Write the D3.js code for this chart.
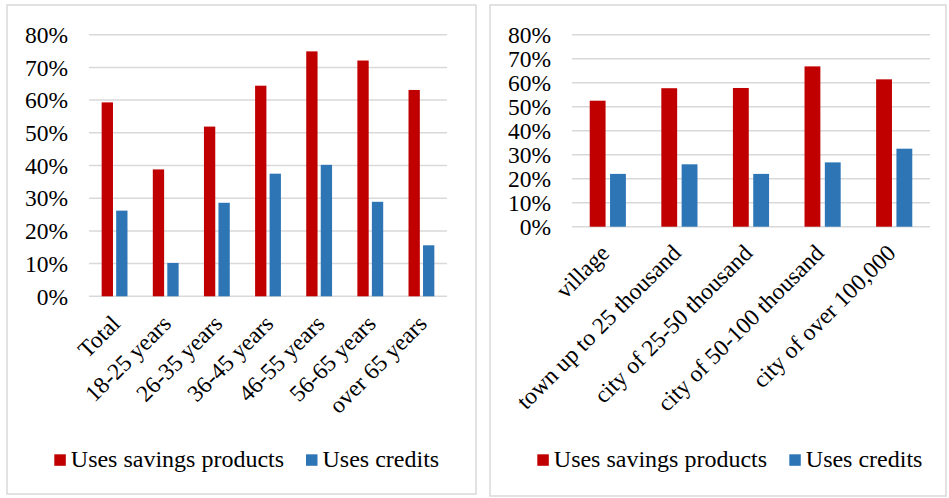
<!DOCTYPE html>
<html><head><meta charset="utf-8">
<script src="https://cdn.jsdelivr.net/npm/d3@7"></script>
<style>body{margin:0;background:#fff}svg{display:block}</style>
</head><body>
<script>
const seriesNames = ["Uses savings products", "Uses credits"];
const seriesColors = ["#C00000", "#2E75B6"];
const yTicks = [0, 0.1, 0.2, 0.3, 0.4, 0.5, 0.6, 0.7, 0.8];

const ageCategories = ["Total", "18-25 years", "26-35 years", "36-45 years", "46-55 years", "56-65 years", "over 65 years"];
const ageSavings = [0.593, 0.388, 0.519, 0.644, 0.749, 0.721, 0.631];
const ageCredits = [0.262, 0.102, 0.286, 0.375, 0.402, 0.289, 0.156];

const placeCategories = ["village", "town up to 25 thousand", "city of 25-50 thousand", "city of 50-100 thousand", "city of over 100,000"];
const placeSavings = [0.525, 0.577, 0.578, 0.668, 0.614];
const placeCredits = [0.220, 0.260, 0.220, 0.268, 0.325];

const FONT = '"Liberation Serif", "Times New Roman", serif';
const W = 949, H = 498;
const svg = d3.select("body").append("svg").attr("width", W).attr("height", H);

function panel(cfg) {
  const g = svg.append("g");
  g.append("rect").attr("x", cfg.box[0]).attr("y", cfg.box[1]).attr("width", cfg.box[2]).attr("height", cfg.box[3])
    .attr("fill", "#fff").attr("stroke", "#d9d9d9").attr("stroke-width", 1.5);
  const y = d3.scaleLinear().domain([0, 0.8]).range([cfg.y0, cfg.y1]);
  const x0 = d3.scaleBand().domain(cfg.categories).range([cfg.xl, cfg.xr]).paddingInner(0.495).paddingOuter(0.2475);
  const x1 = d3.scaleBand().domain(seriesNames).range([0, x0.bandwidth()]).paddingInner(0.22);
  g.selectAll("line.grid").data(yTicks).join("line")
    .attr("x1", cfg.xl).attr("x2", cfg.xr).attr("y1", d => y(d)).attr("y2", d => y(d))
    .attr("stroke", "#d9d9d9").attr("stroke-width", 1.5);
  g.selectAll("text.yl").data(yTicks).join("text")
    .attr("x", cfg.labelX).attr("y", d => y(d)).attr("dy", "0.35em").attr("text-anchor", "end")
    .attr("font-family", FONT).attr("font-size", 23.5).attr("fill", "#000").text(d3.format(".0%"));
  const vals = [cfg.savings, cfg.credits];
  cfg.categories.forEach((c, i) => {
    seriesNames.forEach((s, j) => {
      g.append("rect").attr("x", x0(c) + x1(s)).attr("width", x1.bandwidth())
        .attr("y", y(vals[j][i])).attr("height", y(0) - y(vals[j][i])).attr("fill", seriesColors[j]);
    });
  });
  g.selectAll("text.xl").data(cfg.categories).join("text")
    .attr("transform", d => `translate(${x0(d) + x0.bandwidth() / 2 + cfg.lx},${cfg.y0 + cfg.ly}) rotate(-45)`)
    .attr("text-anchor", "end").attr("dy", "0.35em")
    .attr("font-family", FONT).attr("font-size", 23.5).attr("fill", "#000").text(d => d);
  seriesNames.forEach((s, j) => {
    g.append("rect").attr("x", cfg.legX[j]).attr("y", 454.3).attr("width", 11.5).attr("height", 11.5).attr("fill", seriesColors[j]);
    g.append("text").attr("x", cfg.legX[j] + 16.5).attr("y", 466.7)
      .attr("font-family", FONT).attr("font-size", 24).attr("fill", "#000").text(s);
  });
}

panel({box: [7, 5, 469, 489], categories: ageCategories, savings: ageSavings, credits: ageCredits,
  xl: 89, xr: 447, y0: 296.3, y1: 34.7, labelX: 68, lx: 1, ly: 23, legX: [54.3, 306]});
panel({box: [490, 5, 456, 491], categories: placeCategories, savings: placeSavings, credits: placeCredits,
  xl: 572, xr: 930, y0: 226.7, y1: 34.7, labelX: 551, lx: -3, ly: 22, legX: [537.3, 789.3]});
</script>
</body></html>
